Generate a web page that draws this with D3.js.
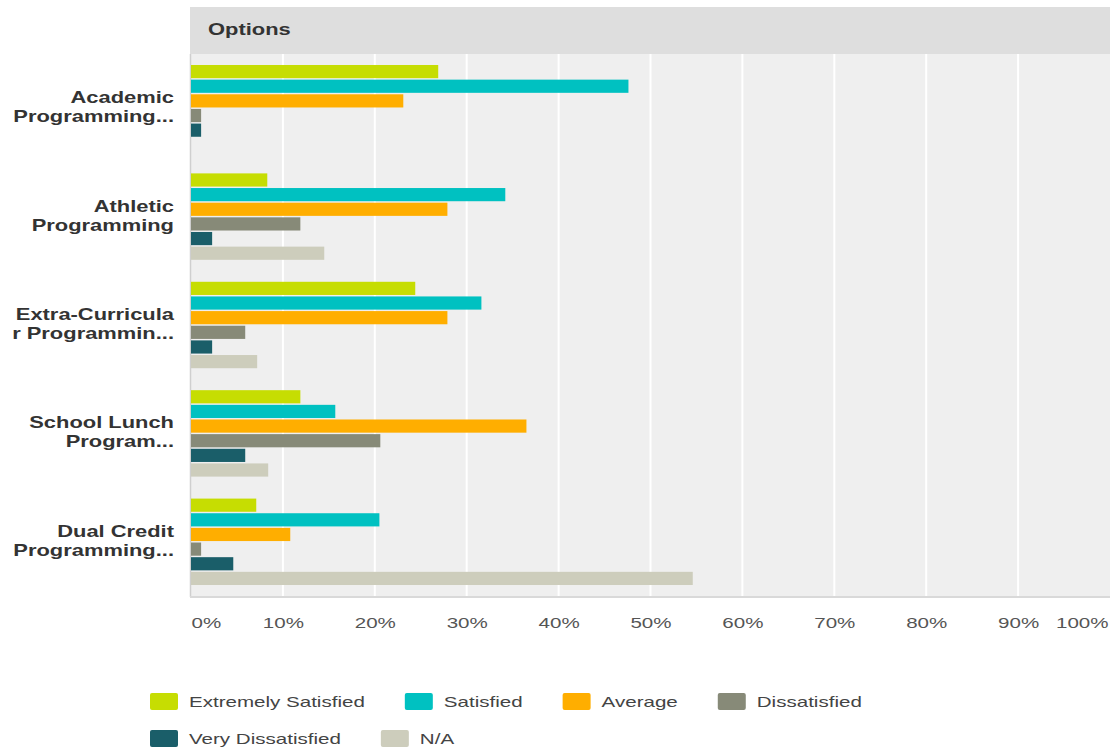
<!DOCTYPE html>
<html>
<head>
<meta charset="utf-8">
<script src="https://cdn.jsdelivr.net/npm/d3@7"></script>
<style>
  html, body { margin: 0; padding: 0; background: #ffffff; }
  svg { display: block; font-family: "Liberation Sans", Arial, sans-serif; }
</style>
</head>
<body>
<svg id="chart" width="1117" height="751"></svg>
<script>
// ---------- data ----------
const categories = [
  "Academic Programming...",
  "Athletic Programming",
  "Extra-Curricular Programmin...",
  "School Lunch Program...",
  "Dual Credit Programming..."
];
const categoryLines = [
  ["Academic", "Programming..."],
  ["Athletic", "Programming"],
  ["Extra-Curricula", "r Programmin..."],
  ["School Lunch", "Program..."],
  ["Dual Credit", "Programming..."]
];
const seriesNames = ["Extremely Satisfied", "Satisfied", "Average", "Dissatisfied", "Very Dissatisfied", "N/A"];
const extremelySatisfied = [26.9, 8.3, 24.4, 11.9, 7.1];
const satisfied          = [47.6, 34.2, 31.6, 15.7, 20.5];
const average            = [23.1, 27.9, 27.9, 36.5, 10.8];
const dissatisfied       = [1.1, 11.9, 5.9, 20.6, 1.1];
const veryDissatisfied   = [1.1, 2.3, 2.3, 5.9, 4.6];
const notApplicable      = [0, 14.5, 7.2, 8.4, 54.6];
const seriesColors = ["#c6dd02", "#00c1c1", "#ffae00", "#878a78", "#1a5e69", "#cdcdbc"];
const tickValues = [0, 10, 20, 30, 40, 50, 60, 70, 80, 90, 100];
const headerTitle = "Options";

const seriesValues = [extremelySatisfied, satisfied, average, dissatisfied, veryDissatisfied, notApplicable];

// ---------- layout ----------
const SX = 1.37; // horizontal text stretch seen in the reference
const svg = d3.select("#chart");
const plot = { left: 190, right: 1110, top: 54, bottom: 596 };

const x = d3.scaleLinear().domain([0, 100]).range([191, 1110]);
const y0 = d3.scaleBand().domain(categories).range([plot.top, plot.bottom]).padding(0);
const y1 = d3.scaleBand().domain(seriesNames).range([0, y0.bandwidth()])
  .paddingInner(0.1).paddingOuter(0.75);

// header band
svg.append("rect")
  .attr("x", plot.left).attr("y", 7)
  .attr("width", plot.right - plot.left).attr("height", plot.top - 7)
  .attr("fill", "#dedede");
svg.append("text")
  .attr("transform", `translate(208,35) scale(${SX},1)`)
  .attr("font-size", 16).attr("font-weight", "bold").attr("fill", "#333")
  .text(headerTitle);

// plot background
svg.append("rect")
  .attr("x", plot.left).attr("y", plot.top)
  .attr("width", plot.right - plot.left).attr("height", plot.bottom - plot.top)
  .attr("fill", "#efefef");

// gridlines
svg.append("g").selectAll("line")
  .data(tickValues.filter(d => d > 0 && d < 100))
  .join("line")
  .attr("x1", d => x(d)).attr("x2", d => x(d))
  .attr("y1", plot.top).attr("y2", plot.bottom)
  .attr("stroke", "#ffffff").attr("stroke-width", 2);

// borders
svg.append("line")
  .attr("x1", plot.left + 0.5).attr("x2", plot.left + 0.5)
  .attr("y1", plot.top).attr("y2", plot.bottom + 1)
  .attr("stroke", "#cfcfcf").attr("stroke-width", 1.5);
svg.append("line")
  .attr("x1", plot.left).attr("x2", plot.right)
  .attr("y1", plot.bottom + 1).attr("y2", plot.bottom + 1)
  .attr("stroke", "#d9d9d9").attr("stroke-width", 2);

// bars
const groups = svg.append("g").selectAll("g")
  .data(categories)
  .join("g")
  .attr("transform", d => `translate(0,${y0(d)})`);

groups.selectAll("rect")
  .data((c, ci) => seriesNames.map((s, si) => ({ s, si, v: seriesValues[si][ci] })))
  .join("rect")
  .attr("x", x(0))
  .attr("y", d => y1(d.s))
  .attr("width", d => x(d.v) - x(0))
  .attr("height", y1.bandwidth())
  .attr("fill", d => seriesColors[d.si]);

// category labels
categories.forEach((c, i) => {
  const cy = y0(c) + y0.bandwidth() / 2;
  const t = svg.append("text")
    .attr("transform", `translate(174,${cy - 5}) scale(${SX},1)`)
    .attr("text-anchor", "end")
    .attr("font-size", 16).attr("font-weight", "bold").attr("fill", "#333");
  categoryLines[i].forEach((line, li) => {
    t.append("tspan").attr("x", 0).attr("dy", li === 0 ? 0 : 19).text(line);
  });
});

// x axis
const axis = svg.append("g")
  .attr("transform", `translate(0,${plot.bottom})`)
  .call(d3.axisBottom(x).tickValues(tickValues).tickFormat(d => d + "%").tickSize(0));
axis.select(".domain").remove();
axis.selectAll("text")
  .attr("y", 27).attr("dy", "0.35em")
  .attr("font-size", 15)
  .attr("font-family", "\"Liberation Sans\", Arial, sans-serif")
  .attr("fill", "#555")
  .attr("text-anchor", d => d === 0 ? "start" : (d === 100 ? "end" : "middle"))
  .attr("transform", `scale(${SX},1)`)
  .attr("x", d => d === 100 ? -2 / SX : 0);

// legend
const legend = svg.append("g");
let lx = 150, ly = 693;
seriesNames.forEach((name, i) => {
  const g = legend.append("g");
  g.append("rect")
    .attr("width", 28).attr("height", 17).attr("rx", 2)
    .attr("fill", seriesColors[i]);
  const t = g.append("text")
    .attr("transform", `translate(39,9) scale(${SX},1)`)
    .attr("dy", "0.35em")
    .attr("font-size", 15).attr("fill", "#444")
    .text(name);
  const w = 39 + t.node().getComputedTextLength() * SX;
  if (lx + w > 1000) { lx = 150; ly += 37; }
  g.attr("transform", `translate(${lx},${ly})`);
  lx += w + 40;
});
</script>
</body>
</html>
